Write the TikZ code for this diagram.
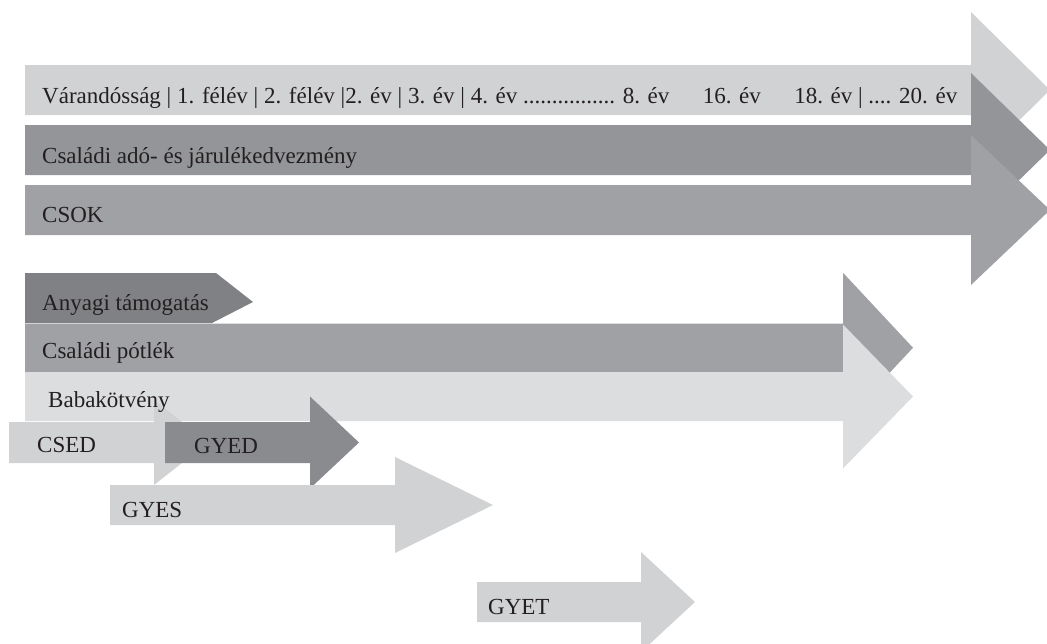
\documentclass[tikz,border=0pt]{standalone}
\usepackage{fontspec}
\setmainfont{Liberation Serif}
\definecolor{lightgr}{HTML}{D1D2D4}
\definecolor{palegr}{HTML}{DCDDDF}
\definecolor{midgr}{HTML}{A0A1A4}
\definecolor{darkgr}{HTML}{939598}
\definecolor{deepgr}{HTML}{808184}
\definecolor{gyedgr}{HTML}{8A8B8E}
\definecolor{txtgr}{HTML}{231F20}
% colour, left, top, head base, bottom, half head, tip
\newcommand{\tlarrow}[7]{\fill[#1] (#2,#3) -- (#4,#3) -- (#4,{(#3+#5)/2-#6}) -- (#7,{(#3+#5)/2}) -- (#4,{(#3+#5)/2+#6}) -- (#4,#5) -- (#2,#5) -- cycle;}
\begin{document}
\begin{tikzpicture}[x=1pt,y=-1pt]
        \useasboundingbox (0,0) rectangle (1047,643);
        \clip (0,0) rectangle (1047,643);
        \tikzstyle{every node}=[anchor=base west,inner sep=0pt,text=txtgr,font=\fontsize{23}{27}\selectfont];
        %upper arrows
        \tlarrow{lightgr}{25}{65}{971}{115}{78}{1050}
        \tlarrow{darkgr}{25}{125}{971}{175}{77}{1050}
        \tlarrow{midgr}{25}{185}{971}{235}{75}{1050}
        %lower arrows
        \fill[deepgr] (25,273) -- (216,273) -- (253,302) -- (212,323) -- (25,323) -- cycle;
        \tlarrow{midgr}{25}{323.5}{843}{372}{75}{913}
        \tlarrow{palegr}{25}{372}{843}{421}{72}{913}
        \tlarrow{lightgr}{9}{422}{154}{463}{42.5}{208}
        \tlarrow{gyedgr}{165}{422}{310}{463}{46}{359}
        \tlarrow{lightgr}{110}{485}{395}{525}{48}{493}
        \tlarrow{lightgr}{477}{582}{641}{622}{50}{695}
        %labels
        \node (time) at (42,103) {V\'arand\'oss\'ag | 1. f\'el\'ev | 2. f\'el\'ev |2. \'ev | 3. \'ev | 4. \'ev ................ 8. \'ev\hspace{1.45em}16. \'ev\hspace{1.45em}18. \'ev | .... 20. \'ev};
        \node (tax) at (42,163) {Csal\'adi ad\'o- \'es j\'arul\'ekedvezm\'eny};
        \node (csok) at (42,222) {CSOK};
        \node (anyagi) at (42,310) {Anyagi t\'amogat\'as};
        \node (potlek) at (42,358) {Csal\'adi p\'otl\'ek};
        \node (baba) at (48,407) {Babak\"otv\'eny};
        \node (csed) at (37,452) {CSED};
        \node (gyed) at (194,453) {GYED};
        \node (gyes) at (122,517) {GYES};
        \node (gyet) at (488,614) {GYET};
\end{tikzpicture}
\end{document}
